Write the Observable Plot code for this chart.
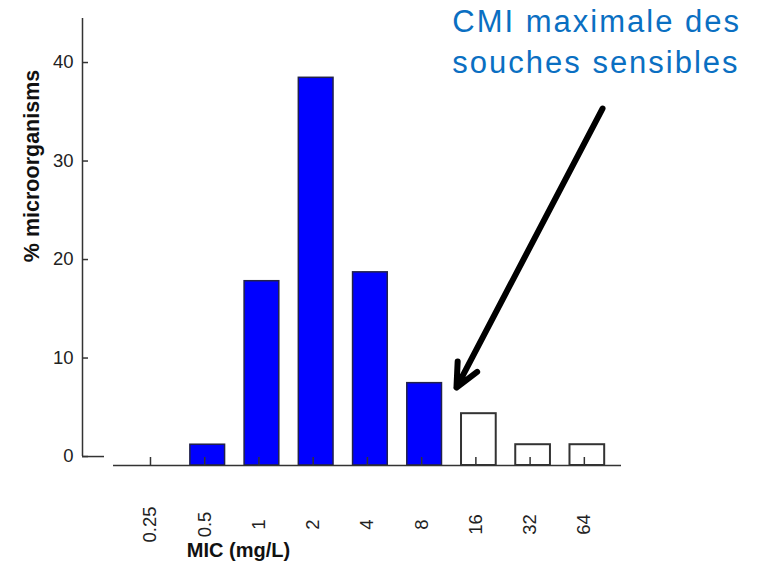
<!DOCTYPE html>
<html>
<head>
<meta charset="utf-8">
<script src="https://cdn.jsdelivr.net/npm/d3@7"></script>
<script src="https://cdn.jsdelivr.net/npm/@observablehq/plot@0.6"></script>
<style>
  html, body { margin: 0; padding: 0; background: #fff; }
  .note text { letter-spacing: 2px; }
</style>
</head>
<body>
<div id="chart"></div>
<script>
// ---- data ----
const categories = ["0.25", "0.5", "1", "2", "4", "8", "16", "32", "64"];
const percents   = [0, 1.2, 17.8, 38.45, 18.7, 7.45, 4.35, 1.2, 1.2];
const susceptible = [true, true, true, true, true, true, false, false, false];
const yTicks = [0, 10, 20, 30, 40];
const xTitle = "MIC (mg/L)";
const yTitle = "% microorganisms";
const noteText = "CMI maximale des\nsouches sensibles";
// annotation anchors in data units (category index, percent)
const noteAt = {i: 5.51, pct: 46.1};
const arrowFrom = {i: 8.28, pct: 35.33};
const arrowTo = {i: 5.587, pct: 7.0};

// ---- layout ----
const xMin = -1.309, xMax = 8.63, yMin = -0.91, yMax = 44.47;
const xAxisStart = -0.737, zeroStubEnd = -0.903;
const half = 0.32;

const rows = categories.map((c, i) => ({i, c, pct: percents[i], s: susceptible[i]}));
const idx = rows.map(d => d.i);

const chart = Plot.plot({
  width: 763,
  height: 565,
  marginLeft: 82,
  marginRight: 142,
  marginTop: 18,
  marginBottom: 100,
  style: {fontFamily: "'Liberation Sans', Arial, sans-serif", fontSize: "18px", color: "#222", background: "#fff", overflow: "visible"},
  x: {type: "linear", domain: [xMin, xMax]},
  y: {domain: [yMin, yMax]},
  marks: [
    // bars
    Plot.rectY(rows.filter(d => d.s && d.pct > 0), {x1: d => d.i - half, x2: d => d.i + half, y1: yMin, y2: "pct", fill: "#0000FF", stroke: "#22224a", strokeWidth: 1.5}),
    Plot.rectY(rows.filter(d => !d.s && d.pct > 0), {x1: d => d.i - half, x2: d => d.i + half, y1: yMin, y2: "pct", fill: "#fff", stroke: "#333", strokeWidth: 2}),
    // axis lines
    Plot.ruleX([xMin], {y1: 0, y2: yMax, stroke: "#333", strokeWidth: 1.5}),
    Plot.ruleY([0], {x1: xMin, x2: zeroStubEnd, stroke: "#333", strokeWidth: 1.5}),
    Plot.ruleY([yMin], {x1: xAxisStart, x2: xMax, stroke: "#333", strokeWidth: 1.5}),
    // y axis
    Plot.axisY(yTicks, {anchor: "left", tickSize: -6, tickPadding: 15, strokeWidth: 1.5, stroke: "#333", fill: "#222", fontSize: 18.5, label: null}),
    // x axis ticks + labels
    Plot.axisX(idx, {anchor: "bottom", tickSize: -8, tickPadding: 67, tickRotate: -90, textAnchor: "middle", dx: -3, tickFormat: i => categories[i], strokeWidth: 1.5, stroke: "#333", fill: "#222", fontSize: 18.5, label: null}),
    // axis titles
    Plot.text([xTitle], {x: 1.567, y: yMin, dy: 85, text: d => d, textAnchor: "middle", lineAnchor: "middle", fontWeight: "bold", fontSize: 20, fill: "#111"}),
    Plot.text([yTitle], {x: xMin, y: 29.5, dx: -50, text: d => d, rotate: -90, textAnchor: "middle", lineAnchor: "middle", fontWeight: "bold", fontSize: 21.5, fill: "#111"}),
    // annotation
    Plot.text([noteText], {x: noteAt.i, y: noteAt.pct, text: d => d, textAnchor: "start", lineAnchor: "top", lineHeight: 1.33, fontSize: 31, fill: "#0A6FC2", className: "note"}),
    Plot.arrow([0], {x1: arrowFrom.i, y1: arrowFrom.pct, x2: arrowTo.i, y2: arrowTo.pct, stroke: "#000", strokeWidth: 6, headLength: 6.5, headAngle: 50})
  ]
});
document.getElementById("chart").appendChild(chart);
</script>
</body>
</html>
